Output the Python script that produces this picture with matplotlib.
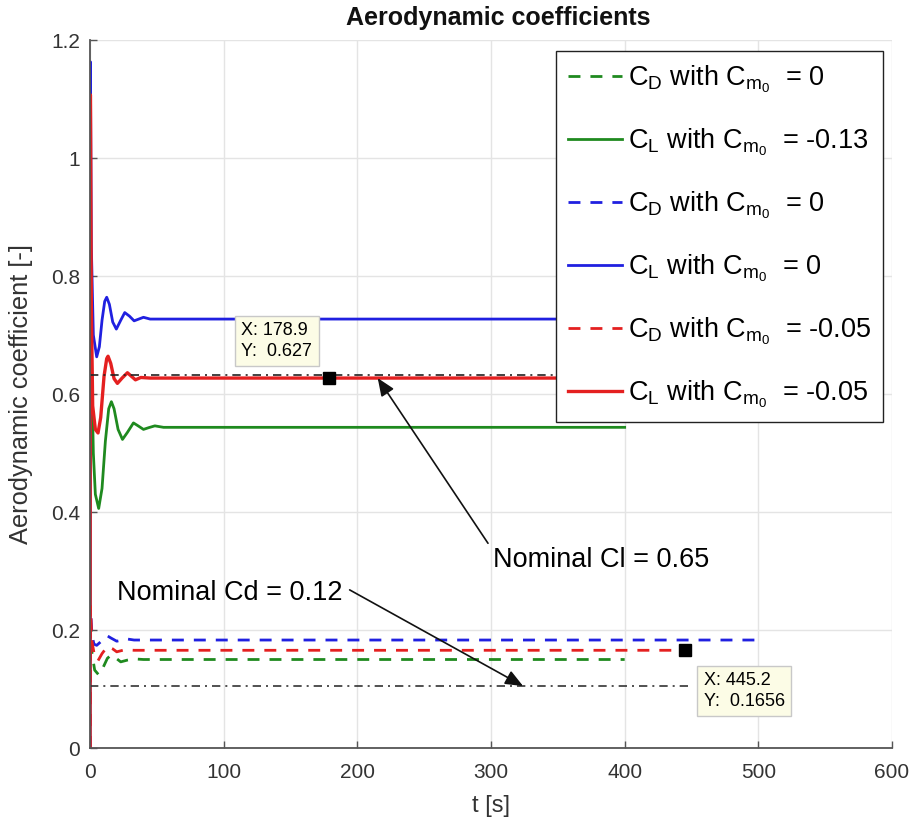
import matplotlib.pyplot as plt

plt.rcParams['font.family'] = ['Liberation Sans', 'DejaVu Sans']
plt.rcParams['mathtext.fontset'] = 'custom'
plt.rcParams['mathtext.rm'] = 'Liberation Sans'
plt.rcParams['mathtext.it'] = 'Liberation Sans'

# samples (t in s, coefficient values)
t_cd_green = [0, 0.3, 1.5, 3.5, 6.5, 9.5, 13, 16, 19, 23, 28, 33, 40, 400]
cd_green = [0, 0.22, 0.16, 0.132, 0.124, 0.135, 0.152, 0.158, 0.153, 0.146, 0.149, 0.151, 0.150, 0.150]
t_cl_green = [0, 0.3, 1.2, 2.5, 4, 6.5, 9, 11.5, 14, 16, 18, 21, 24.3, 28, 32.5, 36, 40, 44, 48.5, 55, 400]
cl_green = [0, 0.88, 0.65, 0.50, 0.43, 0.406, 0.44, 0.52, 0.575, 0.587, 0.575, 0.54, 0.523, 0.535,
            0.551, 0.546, 0.540, 0.543, 0.546, 0.5435, 0.5435]

t_cd_blue = [0, 0.3, 1.5, 3, 5, 8, 11, 13, 16, 20, 24, 27, 33, 500]
cd_blue = [0, 0.24, 0.19, 0.176, 0.174, 0.180, 0.188, 0.190, 0.186, 0.181, 0.183, 0.185, 0.183, 0.183]
t_cl_blue = [0, 0.3, 1.0, 2.5, 5, 7, 9, 11, 12.5, 14.5, 17, 19.7, 23, 26, 29.5, 33, 36.5, 40, 45, 500]
cl_blue = [0, 1.163, 0.85, 0.70, 0.663, 0.68, 0.725, 0.757, 0.764, 0.752, 0.722, 0.710, 0.725,
           0.738, 0.732, 0.724, 0.727, 0.730, 0.727, 0.727]

t_cd_red = [0, 0.3, 1.5, 3.5, 6, 9, 13, 17, 20, 26, 33, 445.2]
cd_red = [0, 0.24, 0.18, 0.155, 0.148, 0.160, 0.172, 0.168, 0.163, 0.1665, 0.1656, 0.1656]
t_cl_red = [0, 0.3, 1.0, 2.0, 4, 6, 8, 10.5, 12.5, 13.5, 15.5, 18, 20.5, 24, 28, 31, 34, 38, 45, 445.2]
cl_red = [0, 1.107, 0.75, 0.58, 0.54, 0.534, 0.56, 0.63, 0.66, 0.664, 0.652, 0.626, 0.618, 0.627,
          0.636, 0.630, 0.624, 0.628, 0.627, 0.627]

t_nominal_cl = [0, 500]
nominal_cl = [0.632, 0.632]
t_nominal_cd = [0, 450]
nominal_cd = [0.105, 0.105]

labels = [r'C$_\mathrm{D}$ with C$_{\mathrm{m}_\mathrm{0}}$  = 0',
          r'C$_\mathrm{L}$ with C$_{\mathrm{m}_\mathrm{0}}$  = -0.13',
          r'C$_\mathrm{D}$ with C$_{\mathrm{m}_\mathrm{0}}$  = 0',
          r'C$_\mathrm{L}$ with C$_{\mathrm{m}_\mathrm{0}}$  = 0',
          r'C$_\mathrm{D}$ with C$_{\mathrm{m}_\mathrm{0}}$  = -0.05',
          r'C$_\mathrm{L}$ with C$_{\mathrm{m}_\mathrm{0}}$  = -0.05']

tips = [(178.9, 0.627), (445.2, 0.1656)]
x_ticks = [0, 100, 200, 300, 400, 500, 600]
y_ticks = [0, 0.2, 0.4, 0.6, 0.8, 1.0, 1.2]
y_tick_labels = ['0', '0.2', '0.4', '0.6', '0.8', '1', '1.2']

green = '#1f8a1f'
blue = '#2020e0'
red = '#e42020'
dash = (4.3, 3.6)

fig = plt.figure(figsize=(9.15, 8.24), dpi=100)
ax = fig.add_axes([90 / 915, 1 - 748 / 824, 802 / 915, 708 / 824])

ax.plot(t_cd_green, cd_green, color=green, lw=2, dashes=dash, label=labels[0])
ax.plot(t_cl_green, cl_green, color=green, lw=2, label=labels[1])
ax.plot(t_cd_blue, cd_blue, color=blue, lw=2, dashes=dash, label=labels[2])
ax.plot(t_cl_blue, cl_blue, color=blue, lw=2, label=labels[3])
ax.plot(t_cd_red, cd_red, color=red, lw=2, dashes=dash, label=labels[4])
ax.plot(t_cl_red, cl_red, color=red, lw=2.4, label=labels[5])

ax.plot(t_nominal_cl, nominal_cl, color='#222222', lw=1.2, dashes=(5, 3, 1.2, 3))
ax.plot(t_nominal_cd, nominal_cd, color='#333333', lw=1.2, dashes=(5, 3, 1.2, 3))

for tx, ty in tips:
    ax.plot(tx, ty, 's', color='k', ms=9, zorder=6)

ax.text(113.25, 0.6898, 'X: 178.9\nY:  0.627', fontsize=13, ha='left', va='center',
        linespacing=1.3, zorder=7,
        bbox=dict(boxstyle='square,pad=0.35', fc='#fcfce6', ec='#c8c8c8', lw=1))
ax.text(459, 0.0966, 'X: 445.2\nY:  0.1656', fontsize=13, ha='left', va='center',
        linespacing=1.3, zorder=7,
        bbox=dict(boxstyle='square,pad=0.35', fc='#fcfce6', ec='#c8c8c8', lw=1))

arrow = dict(arrowstyle='-|>,head_length=0.6,head_width=0.25', color='#111111', lw=1.2,
             mutation_scale=18, shrinkA=0, shrinkB=0)
ax.annotate('', xy=(215.25, 0.627), xytext=(297.75, 0.347), arrowprops=arrow, zorder=8)
ax.annotate('', xy=(324, 0.105), xytext=(194.25, 0.268), arrowprops=arrow, zorder=8)
ax.text(301.5, 0.3186, 'Nominal Cl = 0.65', fontsize=19.5, ha='left', va='center')
ax.text(20.25, 0.2627, 'Nominal Cd = 0.12', fontsize=19.5, ha='left', va='center')

ax.set_xlim(0, 600)
ax.set_ylim(0, 1.2)
ax.set_xticks(x_ticks)
ax.set_yticks(y_ticks)
ax.set_yticklabels(y_tick_labels)
ax.grid(True, color='#e4e4e4', lw=1)
ax.set_axisbelow(True)
for side in ['top', 'right']:
    ax.spines[side].set_visible(False)
for side in ['left', 'bottom']:
    ax.spines[side].set_color('#555555')
    ax.spines[side].set_linewidth(1.3)
ax.tick_params(direction='in', length=5, width=1, colors='#555555', labelcolor='#333333',
               labelsize=15)
ax.tick_params(axis='x', pad=11)
ax.tick_params(axis='y', pad=7)

ax.set_xlabel('t [s]', fontsize=17, color='#333333')
ax.xaxis.set_label_coords(0.5, -0.066)
ax.set_ylabel('Aerodynamic coefficient [-]', fontsize=18.3, color='#333333')
ax.yaxis.set_label_coords(-0.071, 0.5)
fig.text(498 / 915, 1 - 18 / 824, 'Aerodynamic coefficients', fontsize=18, fontweight='bold',
         ha='center', va='center', color='#111111')

leg = ax.legend(loc='upper right', bbox_to_anchor=(883 / 915, 1 - 51 / 824),
                bbox_transform=fig.transFigure, borderaxespad=0, fontsize=19.5,
                fancybox=False, framealpha=1, edgecolor='#222222', handlelength=2.0,
                handletextpad=0.2, labelspacing=1.16, borderpad=0.45)
leg.get_frame().set_linewidth(1)

fig.savefig('out.png', dpi=100)
